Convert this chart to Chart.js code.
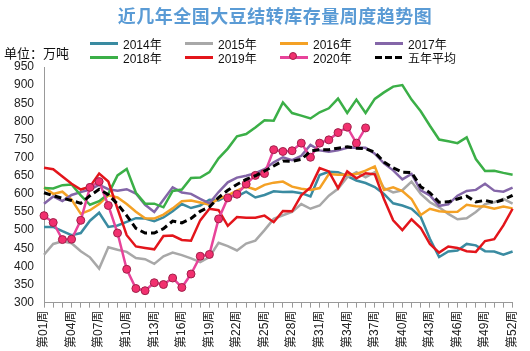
<!DOCTYPE html>
<html>
<head>
<meta charset="utf-8">
<script src="https://cdn.jsdelivr.net/npm/chart.js@4.4.0/dist/chart.umd.min.js"></script>
<style>
body { margin: 0; background: #fff; }
#wrap { position: relative; width: 530px; height: 351px; overflow: hidden; }
#chart { position: absolute; left: 0; top: 0; }
#title { position: absolute; left: 0; width: 550px; top: 2px; text-align: center;
  font: bold 18px "Noto Sans CJK SC", sans-serif; color: #5A9BD5; letter-spacing: 0.5px; }
#unit { position: absolute; left: 4px; top: 43px; font: 13px "Noto Sans CJK SC", sans-serif; color: #111; }
#legend { position: absolute; left: 90px; top: 36px; display: grid;
  grid-template-columns: repeat(4, 95px); grid-auto-rows: 14px; }
.item { display: flex; align-items: center; font: 12px "Liberation Sans", "Noto Sans CJK SC", sans-serif; color: #111; }
.swatch { position: relative; width: 28px; height: 3px; margin-right: 5px; }
.dot { position: absolute; left: 9px; top: -3.5px; width: 8px; height: 8px; border-radius: 50%;
  background: #F2306F; border: 1px solid #A0204A; box-sizing: border-box; }
</style>
</head>
<body>
<div id="wrap">
  <canvas id="chart" width="530" height="351"></canvas>
  <div id="title">近几年全国大豆结转库存量周度趋势图</div>
  <div id="unit">单位：万吨</div>
  <div id="legend"></div>
</div>
<script>
/*
 * Data (万吨, weekly)
 */
let weeks = []
for (let i = 1; i <= 52; i++) weeks.push("第" + String(i).padStart(2, "0") + "周")

let y2014 = [509,509,497,486,492,526,548,509,513,523,533,532,525,535,552,572,561,568,584,582,595,593,606,590,597,607,605,606,602,593,652,661,660,649,637,630,619,600,574,568,559,536,476,426,441,444,462,458,442,441,432,441]
let y2015 = [432,462,469,464,442,425,394,453,446,440,423,420,407,428,438,431,422,412,426,465,456,444,463,471,500,531,541,550,572,559,568,595,614,646,660,646,660,616,604,610,634,600,577,563,545,530,533,550,572,577,586,573]
let y2016 = [618,600,606,584,545,555,572,596,590,572,551,533,532,543,560,580,582,576,570,587,596,609,620,612,625,631,634,620,614,611,616,655,653,653,655,664,676,611,618,608,586,542,559,552,550,551,570,566,565,559,565,560]
let y2017 = [573,593,580,597,605,612,625,613,609,613,601,570,550,584,618,604,600,586,574,605,632,645,650,657,668,687,701,693,705,735,720,716,720,727,728,727,711,684,665,640,655,610,596,567,571,595,608,611,628,609,606,617]
let y2018 = [616,615,624,626,596,570,580,600,651,669,603,573,573,563,608,612,644,645,660,698,725,759,765,783,803,802,852,823,816,808,825,836,863,823,860,823,862,880,896,900,860,828,788,750,745,740,756,696,663,664,658,653]
let y2019 = [672,668,648,628,612,620,656,634,559,486,455,451,447,484,485,473,471,527,559,555,512,536,534,534,540,522,553,552,596,618,671,662,616,662,643,657,654,586,527,500,530,506,462,438,455,451,442,440,470,475,513,559]
let y2020 = [540,521,474,475,527,618,634,568,492,392,339,333,355,350,368,342,379,428,433,531,589,599,627,651,656,722,717,719,740,701,740,749,769,784,740,782]
let avg5 = [603,595,588,582,574,595,613,598,572,540,505,492,492,504,525,520,532,552,564,590,610,626,640,650,663,677,691,690,695,718,722,722,726,730,726,725,715,688,672,660,659,620,603,577,578,586,594,578,582,576,584,596]

let yTicks = { min: 300, max: 950, step: 50 }

/*
 * Datasets
 */
function series(label, data, color, order) {
    return {
        label: label,
        data: data,
        borderColor: color,
        backgroundColor: color,
        borderWidth: 2.5,
        pointRadius: 0,
        tension: 0,
        order: order
    }
}

let datasets = [
    series("2014年", y2014, "#3A8BA1", 8),
    series("2015年", y2015, "#A8A8A8", 7),
    series("2016年", y2016, "#F4A125", 6),
    series("2017年", y2017, "#8466A8", 5),
    series("2018年", y2018, "#3BAF47", 4),
    series("2019年", y2019, "#E3151B", 3),
    series("2020年", y2020, "#E8439A", 2),
    series("五年平均", avg5, "#000000", 1)
]

datasets[6].pointRadius = 4
datasets[6].pointBackgroundColor = "#F2306F"
datasets[6].pointBorderColor = "#A0204A"
datasets[6].pointBorderWidth = 1
datasets[7].borderWidth = 3
datasets[7].borderDash = [7, 4]

/*
 * Legend (html, 4 columns)
 */
let legendBox = document.getElementById("legend")
datasets.forEach(function (ds, i) {
    let item = document.createElement("div")
    item.className = "item"
    let sw = document.createElement("span")
    sw.className = "swatch"
    if (ds.borderDash) {
        sw.style.background = "repeating-linear-gradient(to right, #000 0 7px, transparent 7px 10px)"
    } else {
        sw.style.background = ds.borderColor
    }
    if (i === 6) {
        let dot = document.createElement("span")
        dot.className = "dot"
        sw.appendChild(dot)
    }
    item.appendChild(sw)
    item.appendChild(document.createTextNode(ds.label))
    legendBox.appendChild(item)
})

/*
 * Chart
 */
let tickFont = { family: "'Liberation Sans', 'Noto Sans CJK SC', sans-serif", size: 12 }

var kuCunChart = new Chart(document.getElementById("chart"), {
    type: "line",
    data: { labels: weeks, datasets: datasets },
    options: {
        responsive: false,
        animation: false,
        layout: { padding: { top: 67, left: 4, right: 8, bottom: 0 } },
        plugins: { legend: { display: false }, title: { display: false }, tooltip: { enabled: false } },
        scales: {
            x: {
                grid: { display: true, drawOnChartArea: false, drawTicks: true, tickLength: 5, color: "#999" },
                border: { display: true, color: "#999" },
                ticks: {
                    autoSkip: false, minRotation: 90, maxRotation: 90, padding: 3,
                    color: "#222", font: tickFont,
                    callback: function (v, i) { return i % 3 === 0 ? weeks[i] : "" }
                }
            },
            y: {
                min: yTicks.min, max: yTicks.max,
                grid: { display: false, drawTicks: false },
                border: { display: true, color: "#999" },
                ticks: { stepSize: yTicks.step, padding: 10, color: "#222", font: tickFont }
            }
        }
    }
})
</script>
</body>
</html>
